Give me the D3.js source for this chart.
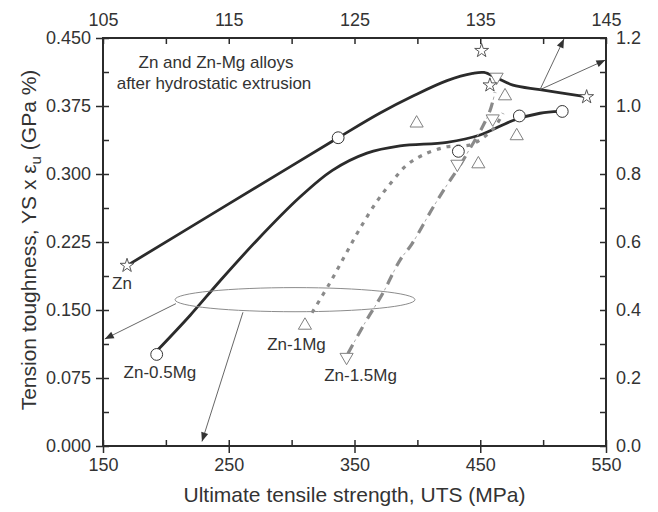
<!DOCTYPE html>
<html>
<head>
<meta charset="utf-8">
<script src="https://cdn.jsdelivr.net/npm/d3@7"></script>
<style>
  html, body { margin: 0; padding: 0; background: #fff; }
  svg { display: block; font-family: "Liberation Sans", Arial, sans-serif; }
</style>
</head>
<body>
<svg id="chart" width="658" height="512"></svg>
<script>
// ---- data (UTS in MPa, tension toughness in GPa %) ----
const xTicksBottom = [150, 250, 350, 450, 550];
const yTicksLeft = [0.000, 0.075, 0.150, 0.225, 0.300, 0.375, 0.450];
const xTicksTop = [105, 115, 125, 135, 145];
const yTicksRight = [0.0, 0.2, 0.4, 0.6, 0.8, 1.0, 1.2];

// fitted trend curves
const curveZn = [[169.1,0.199],[250,0.267],[300,0.309],[337,0.340],[370,0.367],[396.5,0.386],[423.6,0.403],[444,0.411],[453,0.412],[463,0.406],[476,0.398],[497.5,0.393],[534.9,0.385]];
const curveZn05 = [[192.9,0.105],[219.2,0.144],[243.0,0.182],[272.5,0.227],[306.2,0.274],[332.4,0.304],[359.9,0.323],[386.2,0.331],[423.6,0.335],[449.8,0.343],[476.0,0.359],[497.5,0.367],[513.4,0.369]];
const curveZn1 = [[316.2,0.147],[330.5,0.180],[342.4,0.210],[354.4,0.240],[367.9,0.270],[380.6,0.293],[391.7,0.310],[404.5,0.321],[423.6,0.330],[441.8,0.332],[452.2,0.340],[461.7,0.352],[468.1,0.367]];
const curveZn15 = [[344.8,0.102],[358.4,0.136],[372.7,0.169],[386.2,0.205],[395.7,0.223],[412.4,0.263],[423.6,0.288],[432.3,0.306],[441.8,0.328],[451.4,0.351],[457.8,0.370],[461.7,0.390]];

// measured points
const ptsZn = [[169.1,0.199],[451.1,0.436],[457.7,0.398],[534.6,0.385]];
const ptsZn05 = [[192.7,0.101],[337.0,0.340],[432.6,0.325],[481.1,0.364],[515.2,0.369]];
const ptsZn1 = [[310.6,0.133],[399.4,0.356],[469.7,0.386],[479.0,0.342],[448.5,0.311]];
const ptsZn15 = [[343.7,0.098],[431.8,0.311],[459.9,0.361],[463.0,0.407]];

// series labels
const seriesLabels = [
  {text: "Zn", at: [165.1, 0.173]},
  {text: "Zn-0.5Mg", at: [195.3, 0.075]},
  {text: "Zn-1Mg", at: [303.9, 0.106]},
  {text: "Zn-1.5Mg", at: [354.8, 0.072]}
];

// highlight ellipse and its pointer arrows
const ellipseCenter = [302.7, 0.1614];
const ellipseRadius = [95.4, 0.0133];
const ellipseArrows = [
  [[208.0, 0.157], [151.4, 0.118]],
  [[261.3, 0.1475], [228.7, 0.005]]
];
// arrows from the Zn curve toward the secondary axes
const curveArrows = [
  [[497.5, 0.393], [516.6, 0.449]],
  [[497.5, 0.393], [549.5, 0.4257]]
];

// ---- layout ----
const svg = d3.select("#chart");
const mLeft = 103, mRight = 606, mTop = 38, mBottom = 446;
const ink = "#2b2b2b";

const x = d3.scaleLinear().domain([150, 550]).range([mLeft, mRight]);
const y = d3.scaleLinear().domain([0, 0.45]).range([mBottom, mTop]);
const x2 = d3.scaleLinear().domain([105, 145]).range([mLeft, mRight]);
const y2 = d3.scaleLinear().domain([0, 1.2]).range([mBottom, mTop]);

svg.append("rect").attr("width", 658).attr("height", 512).attr("fill", "#fff");

const defs = svg.append("defs");
defs.append("marker")
  .attr("id", "arrow")
  .attr("viewBox", "0 0 10 10")
  .attr("refX", 10).attr("refY", 5)
  .attr("markerWidth", 11).attr("markerHeight", 9)
  .attr("markerUnits", "userSpaceOnUse")
  .attr("orient", "auto")
  .append("path").attr("d", "M0,1 L10,5 L0,9 Z").attr("fill", "#333");

// ---- axes ----
function styleAxis(g) {
  g.select(".domain").remove();
  g.selectAll("line").attr("stroke", ink).attr("stroke-width", 1.5);
  g.selectAll("text").attr("fill", "#333").style("font-size", "18px")
    .style("font-family", "'Liberation Sans', Arial, sans-serif");
}

// bottom: majors in+out, minors inside
svg.append("g").attr("transform", `translate(0,${mBottom})`)
  .call(d3.axisBottom(x).tickValues(xTicksBottom).tickSizeInner(7).tickSizeOuter(0).tickPadding(5).tickFormat(d3.format("d")))
  .call(styleAxis);
svg.append("g").attr("transform", `translate(0,${mBottom})`)
  .call(d3.axisTop(x).tickValues(d3.range(150, 551, 50)).tickSize(6).tickSizeOuter(0).tickFormat(""))
  .call(styleAxis);

// left
svg.append("g").attr("transform", `translate(${mLeft},0)`)
  .call(d3.axisLeft(y).tickValues(yTicksLeft).tickSizeInner(7).tickSizeOuter(0).tickPadding(5).tickFormat(d3.format(".3f")))
  .call(styleAxis);
svg.append("g").attr("transform", `translate(${mLeft},0)`)
  .call(d3.axisRight(y).tickValues(d3.range(0, 16).map(i => i * 0.0375).filter(v => v <= 0.4501)).tickSize(6).tickSizeOuter(0).tickFormat(""))
  .call(styleAxis);

// top (secondary)
svg.append("g").attr("transform", `translate(0,${mTop})`)
  .call(d3.axisBottom(x2).tickValues(d3.range(105, 146, 5)).tickSize(6).tickSizeOuter(0).tickFormat(""))
  .call(styleAxis);
svg.append("g").attr("transform", `translate(0,${mTop})`)
  .call(d3.axisTop(x2).tickValues(xTicksTop).tickSize(0).tickPadding(12).tickFormat(d3.format("d")))
  .call(styleAxis);

// right (secondary)
svg.append("g").attr("transform", `translate(${mRight},0)`)
  .call(d3.axisLeft(y2).tickValues(d3.range(0, 13).map(i => i / 10)).tickSize(6).tickSizeOuter(0).tickFormat(""))
  .call(styleAxis);
svg.append("g").attr("transform", `translate(${mRight},0)`)
  .call(d3.axisRight(y2).tickValues(yTicksRight).tickSize(0).tickPadding(10).tickFormat(d3.format(".1f")))
  .call(styleAxis);

// frame
svg.append("rect")
  .attr("x", mLeft).attr("y", mTop).attr("width", mRight - mLeft).attr("height", mBottom - mTop)
  .attr("fill", "none").attr("stroke", ink).attr("stroke-width", 2);

// axis titles
svg.append("text")
  .attr("x", (mLeft + mRight) / 2).attr("y", 502)
  .attr("text-anchor", "middle").attr("fill", "#333")
  .style("font-size", "21px")
  .text("Ultimate tensile strength, UTS (MPa)");

const yTitle = svg.append("text")
  .attr("transform", `translate(36,240) rotate(-90)`)
  .attr("text-anchor", "middle").attr("fill", "#333")
  .style("font-size", "21px");
yTitle.append("tspan").text("Tension toughness, YS x \u03b5");
yTitle.append("tspan").attr("dy", 5).style("font-size", "15px").text("u");
yTitle.append("tspan").attr("dy", -5).text(" (GPa %)");

// ---- curves ----
const line = d3.line().x(d => x(d[0])).y(d => y(d[1])).curve(d3.curveCatmullRom.alpha(0.5));

svg.append("path").datum(curveZn).attr("d", line)
  .attr("fill", "none").attr("stroke", ink).attr("stroke-width", 2.8);
svg.append("path").datum(curveZn05).attr("d", line)
  .attr("fill", "none").attr("stroke", ink).attr("stroke-width", 2.8);
svg.append("path").datum(curveZn1).attr("d", line)
  .attr("fill", "none").attr("stroke", "#8a8a8a").attr("stroke-width", 3.2)
  .attr("stroke-dasharray", "4,6");
svg.append("path").datum(curveZn15).attr("d", line)
  .attr("fill", "none").attr("stroke", "#8a8a8a").attr("stroke-width", 3.2)
  .attr("stroke-dasharray", "10,10");
svg.append("path").datum(curveZn15).attr("d", line)
  .attr("fill", "none").attr("stroke", "#aaa").attr("stroke-width", 1)
  .attr("stroke-dasharray", "0,13,3,4");

// ---- highlight ellipse + arrows ----
svg.append("ellipse")
  .attr("cx", x(ellipseCenter[0])).attr("cy", y(ellipseCenter[1]))
  .attr("rx", x(ellipseCenter[0] + ellipseRadius[0]) - x(ellipseCenter[0]))
  .attr("ry", y(ellipseCenter[1]) - y(ellipseCenter[1] + ellipseRadius[1]))
  .attr("fill", "none").attr("stroke", "#8c8c8c").attr("stroke-width", 1);

[...ellipseArrows, ...curveArrows].forEach(a => {
  svg.append("line")
    .attr("x1", x(a[0][0])).attr("y1", y(a[0][1]))
    .attr("x2", x(a[1][0])).attr("y2", y(a[1][1]))
    .attr("stroke", "#555").attr("stroke-width", 0.9)
    .attr("marker-end", "url(#arrow)");
});

// ---- markers ----
function markers(data, type, size, color, rotate) {
  const sym = d3.symbol().type(type).size(size);
  svg.append("g").selectAll("path").data(data).join("path")
    .attr("d", sym)
    .attr("transform", d => `translate(${x(d[0])},${y(d[1])})${rotate ? " rotate(180)" : ""}`)
    .attr("fill", "#fff").attr("stroke", color).attr("stroke-width", 1);
}
markers(ptsZn1, d3.symbolTriangle, 75, "#808080", false);
markers(ptsZn15, d3.symbolTriangle, 75, "#808080", true);
markers(ptsZn05, d3.symbolCircle, 110, "#333", false);
markers(ptsZn, d3.symbolStar, 60, "#555", false);

// ---- text ----
svg.append("text").attr("x", 216).attr("y", 68).attr("text-anchor", "middle")
  .attr("fill", "#333").style("font-size", "17px").text("Zn and Zn-Mg alloys");
svg.append("text").attr("x", 214).attr("y", 89).attr("text-anchor", "middle")
  .attr("fill", "#333").style("font-size", "17px").text("after hydrostatic extrusion");

svg.append("g").selectAll("text").data(seriesLabels).join("text")
  .attr("x", d => x(d.at[0])).attr("y", d => y(d.at[1]))
  .attr("text-anchor", "middle").attr("fill", "#333")
  .style("font-size", "17px")
  .text(d => d.text);
</script>
</body>
</html>
